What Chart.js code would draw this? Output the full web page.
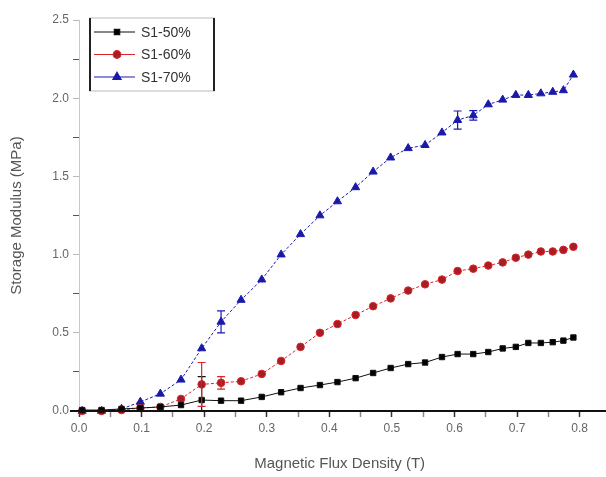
<!DOCTYPE html>
<html lang="en">
<head>
    <meta charset="UTF-8">
    <title>Storage Modulus vs Magnetic Flux Density</title>
    <script src="https://cdn.jsdelivr.net/npm/chart.js"></script>
    <style>
        html, body { margin: 0; padding: 0; background: #fff; }
        #wrap { width: 606px; height: 477px; }
    </style>
</head>
<body>
    <div id="wrap"><canvas id="modulusChart"></canvas></div>

    <script>
        // magnetic flux density (T), shared by all three samples
        const fluxDensity = [0.005, 0.036, 0.068, 0.098, 0.13, 0.163, 0.196, 0.227, 0.259, 0.292,
            0.323, 0.354, 0.385, 0.413, 0.442, 0.47, 0.498, 0.526, 0.553, 0.58,
            0.605, 0.63, 0.654, 0.677, 0.698, 0.718, 0.738, 0.757, 0.774, 0.79];

        // storage modulus (MPa)
        const s1_50 = [0.006, 0.006, 0.013, 0.019, 0.026, 0.038, 0.07, 0.066, 0.066, 0.09,
            0.12, 0.147, 0.166, 0.185, 0.21, 0.243, 0.275, 0.30, 0.31, 0.345,
            0.364, 0.364, 0.377, 0.40, 0.41, 0.435, 0.435, 0.44, 0.45, 0.47];
        const s1_60 = [0.0, 0.0, 0.006, 0.019, 0.026, 0.077, 0.17, 0.18, 0.19, 0.237,
            0.32, 0.41, 0.50, 0.556, 0.614, 0.67, 0.72, 0.77, 0.81, 0.84,
            0.895, 0.91, 0.93, 0.95, 0.98, 1.0, 1.02, 1.02, 1.03, 1.05];
        const s1_70 = [0.0, 0.0, 0.013, 0.058, 0.11, 0.2, 0.40, 0.57, 0.71, 0.84,
            1.0, 1.13, 1.25, 1.34, 1.43, 1.53, 1.62, 1.68, 1.70, 1.78,
            1.86, 1.89, 1.96, 1.99, 2.02, 2.02, 2.03, 2.04, 2.05, 2.15];

        // error bars (only a few are visible in the figure)
        const err_50 = [0, 0, 0, 0, 0, 0, 0.15, 0, 0, 0, 0, 0, 0, 0, 0, 0, 0, 0, 0, 0,
            0, 0, 0, 0, 0, 0, 0, 0, 0, 0];
        const err_60 = [0, 0, 0, 0, 0, 0, 0.14, 0.04, 0, 0, 0, 0, 0, 0, 0, 0, 0, 0, 0, 0,
            0, 0, 0, 0, 0, 0, 0, 0, 0, 0];
        const err_70 = [0, 0, 0, 0, 0, 0, 0, 0.07, 0, 0, 0, 0, 0, 0, 0, 0, 0, 0, 0, 0,
            0.058, 0.03, 0, 0, 0, 0, 0, 0, 0, 0];

        const seriesNames = ['S1-50%', 'S1-60%', 'S1-70%'];
        const xTickLabels = ['0.0', '0.1', '0.2', '0.3', '0.4', '0.5', '0.6', '0.7', '0.8'];
        const yTickLabels = ['0.0', '0.5', '1.0', '1.5', '2.0', '2.5'];

        const toPoints = (ys) => ys.map((y, i) => ({ x: fluxDensity[i], y: y }));

        const errorBars = {
            id: 'errorBars',
            afterDatasetsDraw(chart) {
                const ctx = chart.ctx;
                const area = chart.chartArea;
                const yScale = chart.scales.y;
                ctx.save();
                ctx.beginPath();
                ctx.rect(area.left, area.top, area.right - area.left, area.bottom - area.top);
                ctx.clip();
                chart.data.datasets.forEach((ds, di) => {
                    if (!ds.errors) return;
                    const meta = chart.getDatasetMeta(di);
                    ctx.strokeStyle = ds.borderColor;
                    ctx.lineWidth = 1.2;
                    ds.errors.forEach((e, i) => {
                        if (!e) return;
                        const px = meta.data[i].x;
                        const v = ds.data[i].y;
                        const top = yScale.getPixelForValue(v + e);
                        const bot = yScale.getPixelForValue(v - e);
                        ctx.beginPath();
                        ctx.moveTo(px, top); ctx.lineTo(px, bot);
                        ctx.moveTo(px - 4, top); ctx.lineTo(px + 4, top);
                        ctx.moveTo(px - 4, bot); ctx.lineTo(px + 4, bot);
                        ctx.stroke();
                    });
                });
                ctx.restore();
            }
        };

        const boxLegend = {
            id: 'boxLegend',
            afterDraw(chart) {
                const ctx = chart.ctx;
                const area = chart.chartArea;
                const left = area.left + 11, top = area.top - 2;
                const w = 124, h = 73;
                ctx.save();
                ctx.strokeStyle = '#bbb';
                ctx.lineWidth = 1;
                ctx.strokeRect(left, top, w, h);
                ctx.strokeStyle = '#222';
                ctx.lineWidth = 2;
                ctx.beginPath();
                ctx.moveTo(left, top); ctx.lineTo(left, top + h);
                ctx.moveTo(left + w, top); ctx.lineTo(left + w, top + h);
                ctx.stroke();
                chart.data.datasets.forEach((ds, i) => {
                    const yy = top + 14 + i * 22.5;
                    ctx.strokeStyle = ds.borderColor;
                    ctx.lineWidth = 1.2;
                    ctx.beginPath();
                    ctx.moveTo(left + 4, yy); ctx.lineTo(left + 45, yy);
                    ctx.stroke();
                    ctx.fillStyle = ds.pointBackgroundColor;
                    ctx.strokeStyle = ds.pointBorderColor;
                    Chart.helpers.drawPoint(ctx, {
                        pointStyle: ds.pointStyle, radius: ds.pointRadius, borderWidth: 1
                    }, left + 27, yy);
                    ctx.fillStyle = '#333';
                    ctx.font = '14px "Liberation Sans", Arial, sans-serif';
                    ctx.textBaseline = 'middle';
                    ctx.fillText(ds.label, left + 51, yy + 1);
                });
                ctx.restore();
            }
        };

        const axisLine = {
            id: 'axisLine',
            afterDraw(chart) {
                const ctx = chart.ctx;
                const area = chart.chartArea;
                ctx.save();
                ctx.strokeStyle = '#111';
                ctx.lineWidth = 2;
                ctx.beginPath();
                ctx.moveTo(area.left - 9, area.bottom);
                ctx.lineTo(chart.width, area.bottom);
                ctx.stroke();
                ctx.restore();
            }
        };

        const colors = ['#111111', '#d8262a', '#1a1ab4'];
        const fills = ['#000000', '#a81c24', '#1a1aa0'];
        const markers = ['rect', 'circle', 'triangle'];
        const dashes = [[], [3, 2], [3, 2]];
        const values = [s1_50, s1_60, s1_70];
        const errs = [err_50, err_60, err_70];

        const datasets = values.map((vals, i) => ({
            label: seriesNames[i],
            data: toPoints(vals),
            errors: errs[i],
            borderColor: colors[i],
            borderWidth: 1,
            borderDash: dashes[i],
            backgroundColor: colors[i],
            pointStyle: markers[i],
            pointRadius: i === 2 ? 4.7 : 3.8,
            pointBackgroundColor: fills[i],
            pointBorderColor: colors[i],
            pointBorderWidth: 1,
            clip: false
        }));

        const tickFont = { family: '"Liberation Sans", Arial, sans-serif', size: 12 };
        const titleFont = { family: '"Liberation Sans", Arial, sans-serif', size: 15 };

        new Chart(document.getElementById('modulusChart'), {
            type: 'scatter',
            data: { datasets: datasets },
            options: {
                responsive: true,
                maintainAspectRatio: false,
                animation: false,
                showLine: true,
                layout: { padding: { top: 20, right: 0, left: 0, bottom: 0 } },
                plugins: {
                    legend: { display: false },
                    tooltip: { enabled: false }
                },
                scales: {
                    x: {
                        type: 'linear',
                        min: 0,
                        max: 0.833,
                        afterFit: (s) => { s.height = 66; },
                        border: { display: false },
                        grid: {
                            drawOnChartArea: false,
                            tickLength: 6,
                            tickWidth: 1.5,
                            tickColor: (c) => Math.round(c.tick.value * 20) % 2 === 0 ? '#333' : '#888'
                        },
                        ticks: {
                            stepSize: 0.05,
                            includeBounds: false,
                            color: '#666',
                            font: tickFont,
                            padding: 4,
                            maxRotation: 0,
                            autoSkip: false,
                            callback: (v) => {
                                const k = Math.round(v * 20);
                                return k % 2 === 0 ? xTickLabels[k / 2] : '';
                            }
                        },
                        title: {
                            display: true,
                            text: 'Magnetic Flux Density (T)',
                            color: '#555',
                            font: titleFont,
                            padding: { top: 8 }
                        }
                    },
                    y: {
                        type: 'linear',
                        min: 0,
                        max: 2.5,
                        afterFit: (s) => { s.width = 79; },
                        border: { display: true, color: '#c8c8c8', width: 1 },
                        grid: {
                            drawOnChartArea: false,
                            tickLength: 6,
                            tickColor: (c) => Math.round(c.tick.value * 4) % 2 === 0 ? '#bbb' : '#555'
                        },
                        ticks: {
                            stepSize: 0.25,
                            color: '#666',
                            font: tickFont,
                            padding: 4,
                            autoSkip: false,
                            callback: (v) => {
                                const k = Math.round(v * 4);
                                return k % 2 === 0 ? yTickLabels[k / 2] : '';
                            }
                        },
                        title: {
                            display: true,
                            text: 'Storage Modulus (MPa)',
                            color: '#555',
                            font: titleFont,
                            padding: { top: 8, bottom: 2 }
                        }
                    }
                }
            },
            plugins: [errorBars, boxLegend, axisLine]
        });
    </script>
</body>
</html>
